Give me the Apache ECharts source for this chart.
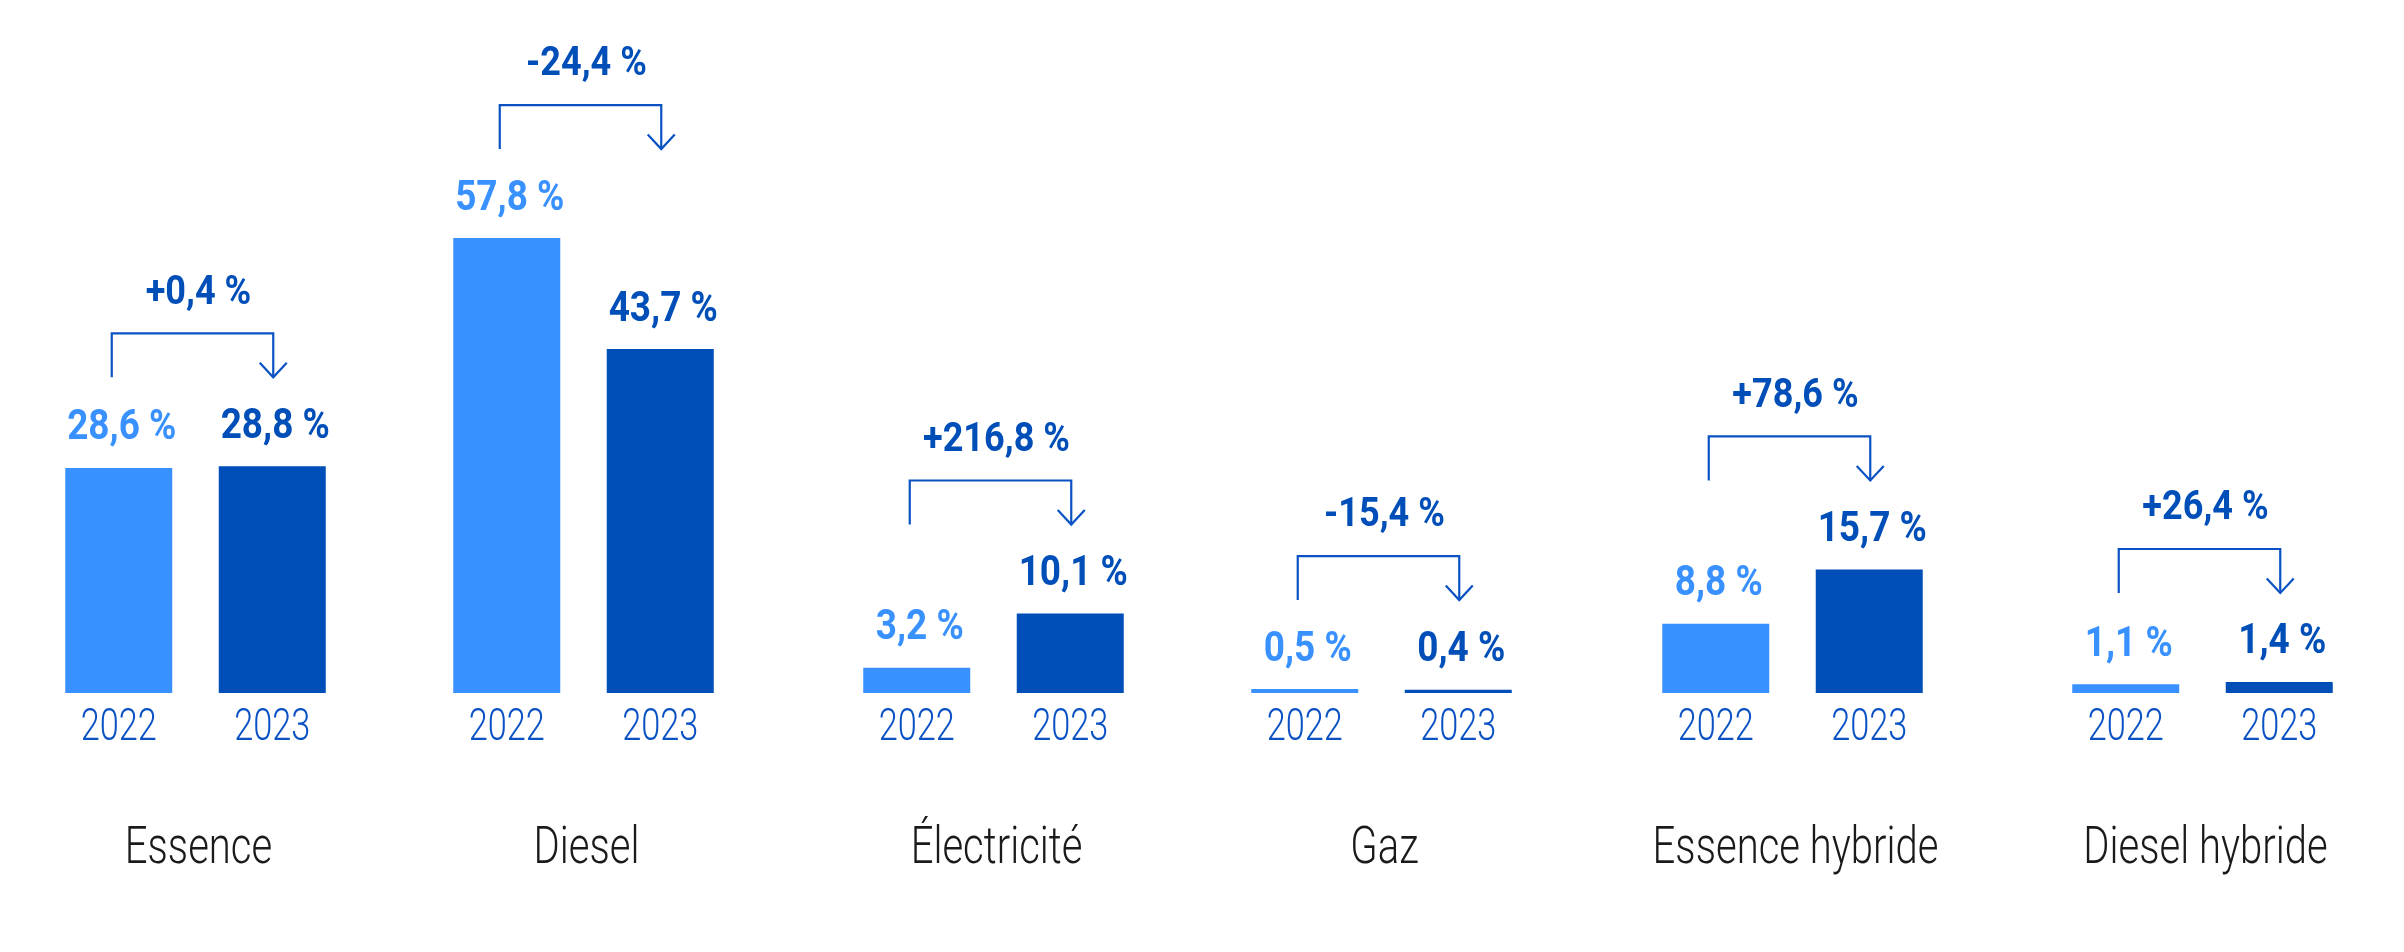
<!DOCTYPE html>
<html>
<head>
<meta charset="utf-8">
<style>
  html, body { margin: 0; padding: 0; background: #ffffff; }
  #chart { width: 2404px; height: 952px; }
</style>
<script src="https://cdn.jsdelivr.net/npm/echarts@6/dist/echarts.min.js"></script>
</head>
<body>
<div id="chart"></div>
<script>
// ---- data ----
const categories = ['Essence', 'Diesel', 'Électricité', 'Gaz', 'Essence hybride', 'Diesel hybride'];
const years = ['2022', '2023'];
const values2022 = [28.6, 57.8, 3.2, 0.5, 8.8, 1.1];
const values2023 = [28.8, 43.7, 10.1, 0.4, 15.7, 1.4];
const changes = ['+0,4 %', '-24,4 %', '+216,8 %', '-15,4 %', '+78,6 %', '+26,4 %'];

// ---- styles ----
const FONT = "Roboto, 'Noto Sans', sans-serif";
const LIGHT = '#3891ff';
const DARK = '#004eb8';
const MID = '#0a52c4';
const TEXT = '#1a1a1a';
const gridLefts = [42, 430, 840, 1228, 1639, 2049];
const gridWidth = 307;
const baselineY = 693;
const yMax = 80;
const pxPerUnit = 7.87;

const fmt = v => v.toFixed(1).replace('.', ',') + ' %';

function txt(x, y, text, font, fill, sx) {
  return {
    type: 'text', x: x, y: y, scaleX: sx, scaleY: 1,
    style: { text: text, x: 0, y: 0, align: 'center', verticalAlign: 'middle', font: font, fill: fill }
  };
}

const chart = echarts.init(document.getElementById('chart'), null, { renderer: 'canvas' });

const grid = [], xAxis = [], yAxis = [], series = [];
categories.forEach((cat, i) => {
  grid.push({ left: gridLefts[i], width: gridWidth, top: baselineY - yMax * pxPerUnit, height: yMax * pxPerUnit });
  xAxis.push({
    type: 'category', gridIndex: i, data: years,
    axisLine: { show: false }, axisTick: { show: false }, axisLabel: { show: false }
  });
  yAxis.push({ type: 'value', gridIndex: i, min: 0, max: yMax, show: false, splitLine: { show: false } });
  series.push({
    type: 'bar', xAxisIndex: i, yAxisIndex: i, barWidth: 107,
    data: [
      { value: values2022[i], itemStyle: { color: LIGHT } },
      { value: values2023[i], itemStyle: { color: DARK } }
    ],
    animation: false, silent: true
  });
  const mx = Math.max(values2022[i], values2023[i]);
  series.push({
    type: 'custom', xAxisIndex: i, yAxisIndex: i, clip: false,
    data: [[0, values2022[i], i, mx], [1, values2023[i], i, mx]],
    renderItem: (params, api) => {
      const k = api.value(0);
      const v = api.value(1);
      const idx = api.value(2);
      const m = api.value(3);
      const top = api.coord([k, v]);
      const base = api.coord([k, 0]);
      const children = [];
      // value label
      children.push(txt(top[0] + 3, top[1] - 39, fmt(v), "bold 42px " + FONT, k === 0 ? LIGHT : DARK, 0.88));
      // year label
      children.push(txt(base[0], base[1] + 36, years[k], "300 44px " + FONT, MID, 0.78));
      if (k === 1) {
        const p0 = api.coord([0, m]);
        const p1 = api.coord([1, m]);
        const yb = p0[1] - 89;
        const yt = yb - 44;
        const xl = p0[0] - 7;
        const xr = p1[0] + 1;
        const ls = { stroke: MID, lineWidth: 2.2, fill: null };
        children.push({ type: 'polyline', shape: { points: [[xl, yb], [xl, yt], [xr, yt], [xr, yb]] }, style: ls });
        children.push({ type: 'polyline', shape: { points: [[xr - 13.5, yb - 14.5], [xr, yb], [xr + 13.5, yb - 14.5]] }, style: ls });
        children.push(txt((xl + xr) / 2 + 6, yt - 40, changes[idx], "bold 41px " + FONT, DARK, 0.88));
        const b0 = api.coord([0, 0]);
        const b1 = api.coord([1, 0]);
        children.push(txt((b0[0] + b1[0]) / 2 + 3, b0[1] + 157, categories[idx], "300 52px " + FONT, TEXT, 0.77));
      }
      return { type: 'group', children: children };
    },
    animation: false, silent: true, z: 5
  });
});

chart.setOption({ backgroundColor: '#ffffff', animation: false, grid, xAxis, yAxis, series });
</script>
</body>
</html>
